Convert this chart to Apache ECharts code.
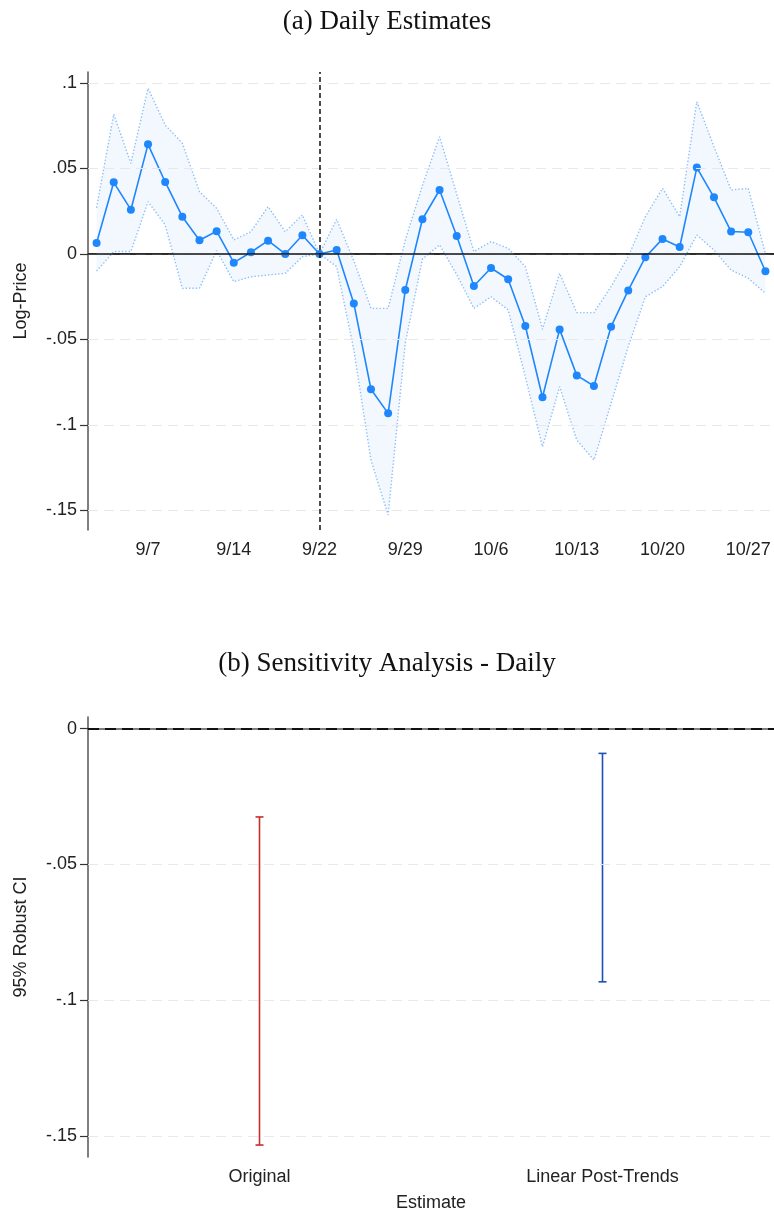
<!DOCTYPE html>
<html>
<head>
<meta charset="utf-8">
<script src="https://cdn.jsdelivr.net/npm/echarts@6/dist/echarts.min.js"></script>
<style>
  html, body { margin: 0; padding: 0; background: #fff; }
  #main { width: 774px; height: 1216px; }
</style>
</head>
<body>
<div id="main"></div>
<script>
// trading days (UK, 2022, 9/19 closed)
var days = ['9/2', '9/5', '9/6', '9/7', '9/8', '9/9', '9/12', '9/13', '9/14', '9/15',
  '9/16', '9/20', '9/21', '9/22', '9/23', '9/26', '9/27', '9/28', '9/29', '9/30',
  '10/3', '10/4', '10/5', '10/6', '10/7', '10/10', '10/11', '10/12', '10/13', '10/14',
  '10/17', '10/18', '10/19', '10/20', '10/21', '10/24', '10/25', '10/26', '10/27', '10/28'];

var est = [0.0064, 0.0419, 0.0259, 0.0641, 0.0421, 0.0218, 0.0080, 0.0133, -0.0051, 0.0010,
  0.0078, 0.0000, 0.0109, 0.0000, 0.0023, -0.0289, -0.0791, -0.0932, -0.0211, 0.0203,
  0.0374, 0.0105, -0.0187, -0.0082, -0.0148, -0.0421, -0.0838, -0.0441, -0.0710, -0.0772,
  -0.0425, -0.0213, -0.0019, 0.0088, 0.0041, 0.0505, 0.0331, 0.0131, 0.0127, -0.0101];

var upper = [0.027, 0.0817, 0.053, 0.0969, 0.0754, 0.0647, 0.0364, 0.0267, 0.0082, 0.013,
  0.0277, 0.013, 0.0228, 0.0000, 0.0203, -0.004, -0.0318, -0.0318, 0.008, 0.040,
  0.0686, 0.035, 0.0014, 0.0072, 0.0033, -0.0074, -0.044, -0.0113, -0.0343, -0.0343,
  -0.0191, -0.0016, 0.0218, 0.0384, 0.0218, 0.0891, 0.0627, 0.0374, 0.0384, 0.000];

var lower = [-0.010, 0.0014, 0.0014, 0.0306, 0.017, -0.0201, -0.020, 0.002, -0.0162, -0.0133,
  -0.0123, -0.0113, -0.0016, 0.0000, -0.0074, -0.056, -0.1205, -0.1526, -0.052, -0.003,
  0.0053, -0.012, -0.0318, -0.025, -0.0327, -0.0717, -0.1127, -0.0776, -0.1088, -0.1205,
  -0.0873, -0.0542, -0.025, -0.0191, -0.0074, 0.0111, 0.0023, -0.0094, -0.0142, -0.023];

var eventDay = '9/22';
var topTicks = [-0.15, -0.1, -0.05, 0, 0.05, 0.1];

// sensitivity analysis
var estimates = ['Original', 'Linear Post-Trends'];
var ciLow = [-0.1533, -0.0932];
var ciHigh = [-0.0325, -0.0091];
var barColors = ['#c42f2f', '#1d4fb8'];
var bottomTicks = [-0.15, -0.1, -0.05, 0];

var sans = 'Liberation Sans';
var serif = 'Liberation Serif';

function fmt(v) {
  if (v === 0) return '0';
  return String(v).replace('0.', '.');
}

var gridLine = { color: '#e8e8e8', width: 1, type: [10, 6] };
var axisLineStyle = { color: '#555', width: 1.5 };

var chart = echarts.init(document.getElementById('main'));

var option = {
  backgroundColor: '#fff',
  animation: false,
  title: [{
    text: '(a) Daily Estimates',
    left: 'center',
    top: 3,
    textStyle: { fontFamily: serif, fontSize: 27, fontWeight: 'normal', color: '#111' }
  }, {
    text: '(b) Sensitivity Analysis - Daily',
    left: 'center',
    top: 645,
    textStyle: { fontFamily: serif, fontSize: 27, fontWeight: 'normal', color: '#111' }
  }],
  grid: [
    { left: 88, top: 72, width: 688, height: 458 },
    { left: 88, top: 717, width: 686, height: 440 }
  ],
  xAxis: [{
    gridIndex: 0,
    type: 'category',
    data: days,
    boundaryGap: true,
    axisLine: { lineStyle: axisLineStyle },
    axisTick: {
      alignWithLabel: true,
      length: 8,
      interval: function (i) { return i % 5 === 3; },
      lineStyle: { color: '#333', width: 1.2 }
    },
    axisLabel: {
      interval: function (i) { return i % 5 === 3; },
      margin: 11,
      fontFamily: sans,
      fontSize: 18,
      color: '#222'
    },
    splitLine: { show: false }
  }, {
    gridIndex: 1,
    type: 'category',
    data: estimates,
    boundaryGap: true,
    name: 'Estimate',
    nameLocation: 'middle',
    nameGap: 37,
    nameTextStyle: { fontFamily: sans, fontSize: 18, color: '#222' },
    axisLine: { lineStyle: axisLineStyle },
    axisTick: { alignWithLabel: true, length: 7, lineStyle: { color: '#333', width: 1.2 } },
    axisLabel: { margin: 11, fontFamily: sans, fontSize: 18, color: '#222' },
    splitLine: { show: false }
  }],
  yAxis: [{
    gridIndex: 0,
    type: 'value',
    min: -0.1614,
    max: 0.1064,
    name: 'Log-Price',
    nameLocation: 'middle',
    nameGap: 58,
    nameTextStyle: { fontFamily: sans, fontSize: 18, color: '#222' },
    axisLine: { show: true, lineStyle: axisLineStyle },
    axisTick: { show: true, length: 8, customValues: topTicks, lineStyle: { color: '#333', width: 1.2 } },
    axisLabel: { customValues: topTicks, formatter: fmt, margin: 11, fontFamily: sans, fontSize: 18, color: '#222' },
    splitLine: { show: false }
  }, {
    gridIndex: 1,
    type: 'value',
    min: -0.1577,
    max: 0.0043,
    name: '95% Robust CI',
    nameLocation: 'middle',
    nameGap: 58,
    nameTextStyle: { fontFamily: sans, fontSize: 18, color: '#222' },
    axisLine: { show: true, lineStyle: axisLineStyle },
    axisTick: { show: true, length: 8, customValues: bottomTicks, lineStyle: { color: '#333', width: 1.2 } },
    axisLabel: { customValues: bottomTicks, formatter: fmt, margin: 11, fontFamily: sans, fontSize: 18, color: '#222' },
    splitLine: { show: false }
  }],
  series: [
    // gridlines
    {
      type: 'line', xAxisIndex: 0, yAxisIndex: 0, data: [], z: 0,
      markLine: {
        silent: true, symbol: 'none', label: { show: false },
        lineStyle: gridLine,
        data: topTicks.map(function (t) { return { yAxis: t }; })
      }
    },
    {
      type: 'line', xAxisIndex: 1, yAxisIndex: 1, data: [], z: 0,
      markLine: {
        silent: true, symbol: 'none', label: { show: false },
        lineStyle: gridLine,
        data: bottomTicks.filter(function (t) { return t !== 0; }).map(function (t) { return { yAxis: t }; })
      }
    },
    // confidence band
    {
      name: 'base', type: 'line', xAxisIndex: 0, yAxisIndex: 0,
      stack: 'ci', stackStrategy: 'all',
      data: lower, symbol: 'none', lineStyle: { opacity: 0 }, z: 1
    },
    {
      name: 'band', type: 'line', xAxisIndex: 0, yAxisIndex: 0,
      stack: 'ci', stackStrategy: 'all',
      data: upper.map(function (u, i) { return u - lower[i]; }),
      symbol: 'none', lineStyle: { opacity: 0 },
      areaStyle: { color: '#f3f8fe', opacity: 1 }, z: 1
    },
    {
      name: 'upper', type: 'line', xAxisIndex: 0, yAxisIndex: 0,
      data: upper, symbol: 'none',
      lineStyle: { color: '#8cbff8', width: 1.4, type: [1.4, 2] }, z: 2
    },
    {
      name: 'lower', type: 'line', xAxisIndex: 0, yAxisIndex: 0,
      data: lower, symbol: 'none',
      lineStyle: { color: '#8cbff8', width: 1.4, type: [1.4, 2] }, z: 2
    },
    // reference lines
    {
      type: 'line', xAxisIndex: 0, yAxisIndex: 0, data: [], z: 3,
      markLine: {
        silent: true, symbol: 'none', label: { show: false },
        data: [
          { yAxis: 0, lineStyle: { color: '#111', width: 1.5, type: 'solid' } },
          { xAxis: eventDay, lineStyle: { color: '#111', width: 1.5, type: [5, 3] } }
        ]
      }
    },
    // point estimates
    {
      name: 'estimate', type: 'line', xAxisIndex: 0, yAxisIndex: 0,
      data: est,
      symbol: 'circle', symbolSize: 8,
      itemStyle: { color: '#1f87fe' },
      lineStyle: { color: '#1f87fe', width: 1.6 },
      z: 4
    },
    // zero line bottom
    {
      type: 'line', xAxisIndex: 1, yAxisIndex: 1, data: [], z: 3,
      markLine: {
        silent: true, symbol: 'none', label: { show: false },
        data: [{ yAxis: 0, lineStyle: { color: '#111', width: 1.8, type: [11, 6] } }]
      }
    },
    // error bars
    {
      type: 'custom', xAxisIndex: 1, yAxisIndex: 1, z: 4,
      encode: { x: 0, y: [1, 2] },
      data: estimates.map(function (e, i) { return [i, ciLow[i], ciHigh[i]]; }),
      renderItem: function (params, api) {
        var x = api.value(0);
        var top = api.coord([x, api.value(2)]);
        var bot = api.coord([x, api.value(1)]);
        var c = barColors[params.dataIndex];
        var w = 4;
        var st = { stroke: c, lineWidth: 1.6 };
        return {
          type: 'group',
          children: [
            { type: 'line', shape: { x1: top[0], y1: top[1], x2: bot[0], y2: bot[1] }, style: st },
            { type: 'line', shape: { x1: top[0] - w, y1: top[1], x2: top[0] + w, y2: top[1] }, style: st },
            { type: 'line', shape: { x1: bot[0] - w, y1: bot[1], x2: bot[0] + w, y2: bot[1] }, style: st }
          ]
        };
      }
    }
  ]
};

chart.setOption(option);
</script>
</body>
</html>
